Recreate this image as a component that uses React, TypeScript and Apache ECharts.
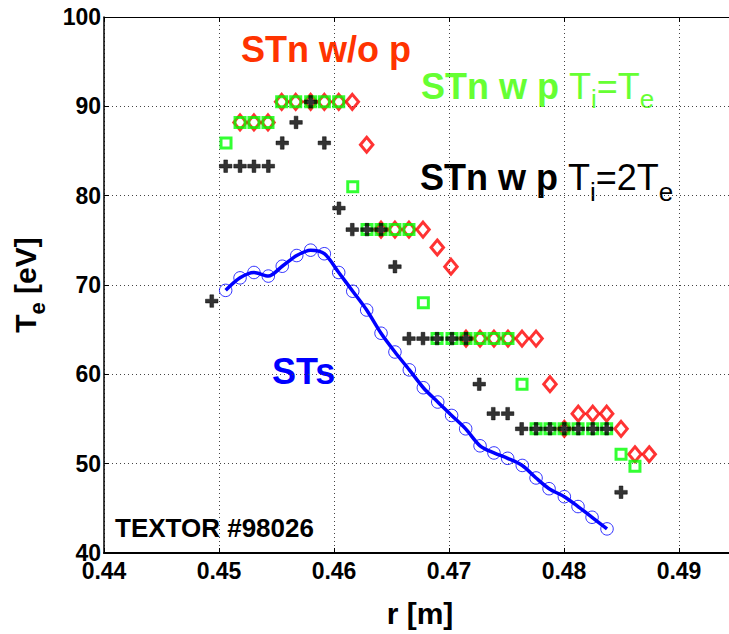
import React, { useEffect, useRef } from "react";
import * as echarts from "echarts";

// Axis ranges
const rMin = 0.44;
const rMax = 0.495;
const rStep = 0.01;
const teMin = 40;
const teMax = 100;
const teStep = 10;

// STs: synthetic Te profile (blue circles + line)
const stsR = [
  0.45058, 0.45183, 0.45304, 0.45429, 0.4555, 0.45676, 0.45797, 0.45916, 0.46041, 0.46163,
  0.46284, 0.46409, 0.4653, 0.46655, 0.46777, 0.46902, 0.47023, 0.47145, 0.4727, 0.47391,
  0.4751, 0.47637, 0.47757, 0.4787, 0.48003, 0.48122, 0.48244, 0.48374,
];
const stsTe = [
  69.4, 70.8, 71.4, 71.0, 72.1, 73.3, 73.9, 73.5, 71.4, 69.3,
  67.2, 64.6, 62.5, 60.5, 58.5, 56.9, 55.4, 53.9, 52.0, 51.2,
  50.6, 49.8, 48.4, 47.2, 46.3, 45.2, 44.0, 42.7,
];

// STn without p (red diamonds)
const stnNoPR = [
  0.45183, 0.45304, 0.45426, 0.45545, 0.45667, 0.45797, 0.45916, 0.46041, 0.46159, 0.46284,
  0.46409, 0.4653, 0.46652, 0.46774, 0.46898, 0.47017, 0.47148, 0.4727, 0.47391, 0.47513,
  0.47635, 0.47757, 0.47878, 0.48003, 0.48124, 0.4825, 0.48371, 0.48496, 0.48617, 0.48741,
];
const stnNoPTe = [
  88.2, 88.2, 88.2, 90.5, 90.5, 90.5, 90.5, 90.5, 90.5, 85.7,
  76.2, 76.2, 76.2, 76.2, 74.2, 72.05, 64.0, 64.0, 64.0, 64.0,
  64.0, 64.0, 58.9, 53.9, 55.6, 55.6, 55.6, 53.9, 51.05, 51.05,
];

// STn with p, Ti = Te (green squares)
const stnTiTeR = [
  0.45061, 0.45183, 0.45304, 0.45426, 0.45545, 0.45667, 0.45797, 0.45916, 0.46041, 0.46163,
  0.46287, 0.46409, 0.4653, 0.46652, 0.46777, 0.46896, 0.47026, 0.47148, 0.4727, 0.47391,
  0.47513, 0.47635, 0.47757, 0.47878, 0.48, 0.48122, 0.4825, 0.48371, 0.48496, 0.48617,
];
const stnTiTeTe = [
  85.9, 88.2, 88.2, 88.2, 90.5, 90.5, 90.5, 90.5, 90.5, 81.0,
  76.2, 76.2, 76.2, 76.2, 68.0, 64.0, 64.0, 64.0, 64.0, 64.0,
  64.0, 58.9, 53.9, 53.9, 53.9, 53.9, 53.9, 53.9, 51.05, 49.7,
];

// STn with p, Ti = 2Te (black crosses)
const stnTi2TeR = [
  0.44937, 0.45058, 0.45183, 0.45304, 0.45429, 0.4555, 0.4567, 0.45797, 0.45916, 0.46043,
  0.46159, 0.46287, 0.46409, 0.4653, 0.46652, 0.46774, 0.46896, 0.47026, 0.47148, 0.47263,
  0.47385, 0.4751, 0.47632, 0.47757, 0.47878, 0.48003, 0.48124, 0.4825, 0.48371, 0.48496,
];
const stnTi2TeTe = [
  68.2, 83.3, 83.3, 83.3, 83.3, 85.9, 88.2, 90.5, 85.9, 78.6,
  76.2, 76.2, 76.2, 72.05, 64.0, 64.0, 64.0, 64.0, 64.0, 58.9,
  55.6, 55.6, 53.9, 53.9, 53.9, 53.9, 53.9, 53.9, 53.9, 46.8,
];

const FONT = "'Liberation Sans', Arial, Helvetica, sans-serif";
const PLUS = "path://M4.2,0h3.6v4.2h4.2v3.6h-4.2v4.2h-3.6v-4.2h-4.2v-3.6h4.2z";
// distance from the em-box centre to the alphabetic baseline, in em
const BASE_OFF = 0.3465;

const pairs = (xs: number[], ys: number[]) => xs.map((x, i) => [x, ys[i]]);

const tickFmt = (v: number) =>
  Math.abs(v * 100 - Math.round(v * 100)) < 1e-6 ? v.toFixed(2) : "";

type Piece = { t: string; size: number; bold?: boolean; drop?: number };

const ctx = typeof document !== "undefined" ? document.createElement("canvas").getContext("2d") : null;
const fontOf = (p: Piece) => `${p.bold ? "bold " : ""}${p.size}px ${FONT}`;
const widthOf = (p: Piece) => {
  if (!ctx) return p.t.length * p.size * 0.55;
  ctx.font = fontOf(p);
  return ctx.measureText(p.t).width;
};

// Lays a run of text pieces (with subscripts) along a common baseline.
function textRun(pieces: Piece[], x0: number, baseline: number, color: string, center = false) {
  const widths = pieces.map(widthOf);
  const total = widths.reduce((a, b) => a + b, 0);
  let x = center ? x0 - total / 2 : x0;
  return pieces.map((p, i) => {
    const el = {
      type: "text",
      x,
      y: baseline + (p.drop || 0) - BASE_OFF * p.size,
      style: {
        text: p.t,
        fill: color,
        fontSize: p.size,
        fontWeight: p.bold ? "bold" : "normal",
        fontFamily: FONT,
        align: "left",
        verticalAlign: "middle",
      },
    };
    x += widths[i];
    return el;
  });
}

export default function App() {
  const ref = useRef<HTMLDivElement>(null);

  useEffect(() => {
    if (!ref.current) return;
    const chart = echarts.init(ref.current, null, { renderer: "svg" });

    const grid = { left: 104, top: 17, width: 632.5, height: 536 };
    const dotted = { color: "#444", width: 1, type: [1, 3] as number[] };

    const greenLabel = textRun(
      [
        { t: "STn w p ", size: 36, bold: true },
        { t: "T", size: 36 },
        { t: "i", size: 26, drop: 10 },
        { t: "=T", size: 36 },
        { t: "e", size: 26, drop: 10 },
      ],
      421, 98.5, "#66ff33"
    );
    const blackLabel = textRun(
      [
        { t: "STn w p ", size: 36, bold: true },
        { t: "T", size: 36 },
        { t: "i", size: 26, drop: 11 },
        { t: "=2T", size: 36 },
        { t: "e", size: 26, drop: 11 },
      ],
      420, 190, "#000000"
    );
    const yTitle = textRun(
      [
        { t: "T", size: 30, bold: true },
        { t: "e", size: 22, bold: true, drop: 9 },
        { t: " [eV]", size: 30, bold: true },
      ],
      0, 0, "#000000", true
    );

    chart.setOption({
      animation: false,
      backgroundColor: "#fff",
      grid,
      xAxis: [
        {
          type: "value",
          min: rMin,
          max: rMax,
          interval: rStep,
          position: "bottom",
          axisLine: { show: true, onZero: false, lineStyle: { color: "#000", width: 2 } },
          axisTick: { show: true, inside: true, length: 5, lineStyle: { color: "#000", width: 1 } },
          axisLabel: {
            formatter: tickFmt,
            fontSize: 23,
            fontWeight: "bold",
            fontFamily: FONT,
            color: "#000",
            margin: 6,
            showMaxLabel: false,
          },
          splitLine: { show: true, lineStyle: dotted },
        },
        {
          type: "value",
          min: rMin,
          max: rMax,
          interval: rStep,
          position: "top",
          axisLine: { show: true, onZero: false, lineStyle: { color: "#000", width: 1 } },
          axisTick: { show: true, inside: true, length: 5, lineStyle: { color: "#000", width: 1 } },
          axisLabel: { show: false },
          splitLine: { show: false },
        },
      ],
      yAxis: {
        type: "value",
        min: teMin,
        max: teMax,
        interval: teStep,
        axisLine: { show: true, onZero: false, lineStyle: { color: "#000", width: 1.5 } },
        axisTick: { show: true, inside: true, length: 5, lineStyle: { color: "#000", width: 1 } },
        axisLabel: { fontSize: 23, fontWeight: "bold", fontFamily: FONT, color: "#000", margin: 3 },
        splitLine: { show: true, lineStyle: dotted },
      },
      series: [
        {
          name: "STn w/o p",
          type: "scatter",
          data: pairs(stnNoPR, stnNoPTe),
          symbol: "diamond",
          symbolSize: [12.5, 15],
          itemStyle: { color: "transparent", borderColor: "#ff0000", borderWidth: 3 },
          z: 2,
        },
        {
          name: "STn w p Ti=Te",
          type: "scatter",
          data: pairs(stnTiTeR, stnTiTeTe),
          symbol: "rect",
          symbolSize: 10,
          itemStyle: { color: "transparent", borderColor: "#00ff00", borderWidth: 3 },
          z: 3,
        },
        {
          name: "STn w p Ti=2Te",
          type: "scatter",
          data: pairs(stnTi2TeR, stnTi2TeTe),
          symbol: PLUS,
          symbolSize: 12.5,
          itemStyle: { color: "#000", borderColor: "#000", borderWidth: 0.6 },
          z: 4,
        },
        {
          name: "STs line",
          type: "line",
          data: pairs(stsR, stsTe),
          showSymbol: false,
          symbol: "none",
          smooth: 0.3,
          lineStyle: { color: "#0000ff", width: 3.5 },
          z: 5,
        },
        {
          name: "STs",
          type: "scatter",
          data: pairs(stsR, stsTe),
          symbol: "circle",
          symbolSize: 12.5,
          itemStyle: { color: "transparent", borderColor: "#0000ff", borderWidth: 1 },
          z: 6,
        },
      ],
      graphic: [
        {
          type: "text",
          x: 241,
          y: 49,
          style: { text: "STn w/o p", fill: "#ff3300", fontSize: 36, fontWeight: "bold", fontFamily: FONT, align: "left", verticalAlign: "middle" },
        },
        ...greenLabel,
        ...blackLabel,
        {
          type: "text",
          x: 272,
          y: 371.5,
          style: { text: "STs", fill: "#0000ff", fontSize: 36, fontWeight: "bold", fontFamily: FONT, align: "left", verticalAlign: "middle" },
        },
        {
          type: "text",
          x: 115,
          y: 528,
          style: { text: "TEXTOR #98026", fill: "#000", fontSize: 26, fontWeight: "bold", fontFamily: FONT, align: "left", verticalAlign: "middle" },
        },
        {
          type: "text",
          x: 420,
          y: 613,
          style: { text: "r [m]", fill: "#000", fontSize: 30, fontWeight: "bold", fontFamily: FONT, align: "center", verticalAlign: "middle" },
        },
        {
          type: "group",
          x: 36,
          y: 285,
          rotation: Math.PI / 2,
          children: yTitle,
        },
      ],
    });

    return () => chart.dispose();
  }, []);

  return (
    <div
      ref={ref}
      style={{ position: "fixed", left: 0, top: 0, width: 740, height: 634, background: "#fff" }}
    />
  );
}
